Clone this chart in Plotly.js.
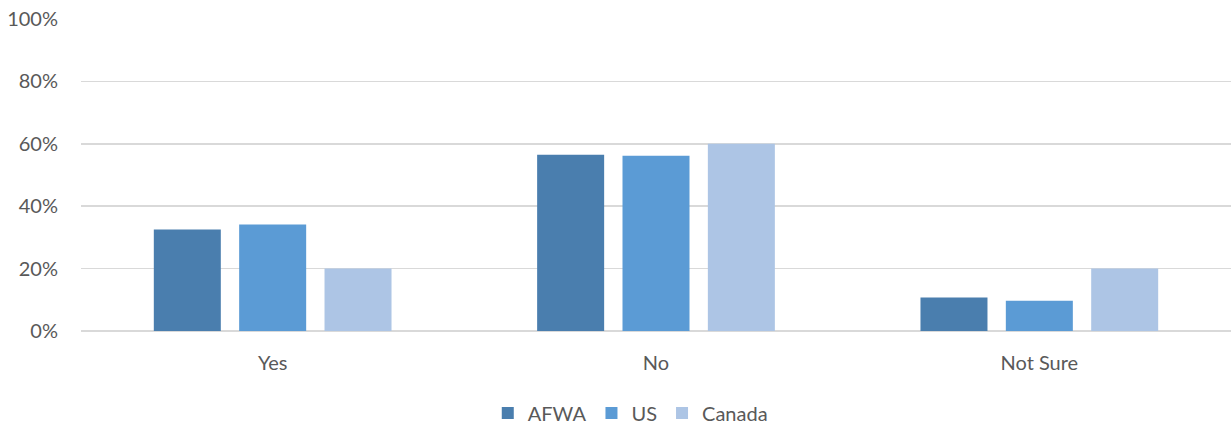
<!DOCTYPE html>
<html>
<head>
<meta charset="utf-8">
<script src="https://cdn.plot.ly/plotly-3.0.1.min.js"></script>
<style>html,body{margin:0;padding:0;background:#fff;}#chart{width:1231px;height:427px;}</style>
</head>
<body>
<div id="chart"></div>
<script>
const categories = ["Yes", "No", "Not Sure"];
const afwa = [0.325, 0.565, 0.107];
const us = [0.341, 0.562, 0.097];
const canada = [0.20, 0.60, 0.20];
const seriesNames = ["AFWA", "US", "Canada"];
const colors = ["#4A7EAE", "#5B9BD5", "#ADC5E5"];

const data = [afwa, us, canada].map((vals, i) => ({
  type: 'bar', name: seriesNames[i], x: categories, y: vals,
  marker: {color: colors[i]}, hoverinfo: 'skip'
}));

const layout = {
  width: 1231, height: 427,
  margin: {l: 81, r: 0, t: 19, b: 95.5, pad: 0},
  paper_bgcolor: '#fff', plot_bgcolor: '#fff',
  font: {family: 'Lato, "Open Sans", sans-serif', size: 20, color: '#595959'},
  barmode: 'group', bargap: 0.332, bargroupgap: 0.215,
  xaxis: {
    showgrid: false, zeroline: false, showline: false, automargin: false,
    ticks: '', ticklabelstandoff: 18,
    tickfont: {size: 20, color: '#595959'}
  },
  yaxis: {
    range: [0, 1], tickvals: [0, 0.2, 0.4, 0.6, 0.8, 1.0], automargin: false,
    tickformat: '.0%', gridcolor: '#D9D9D9', gridwidth: 1.5,
    zeroline: true, zerolinecolor: '#D9D9D9', zerolinewidth: 2,
    showline: false, ticks: '', ticklabelstandoff: 22,
    tickfont: {size: 20, color: '#595959'}
  },
  showlegend: true,
  legend: {
    orientation: 'h', xref: 'container', yref: 'container',
    x: 0.512, xanchor: 'center', y: 0.033, yanchor: 'middle',
    font: {size: 20, color: '#595959'}, itemwidth: 30, traceorder: 'normal',
    tracegroupgap: 0
  }
};

Plotly.newPlot('chart', data, layout, {displayModeBar: false, staticPlot: true});
</script>
</body>
</html>
